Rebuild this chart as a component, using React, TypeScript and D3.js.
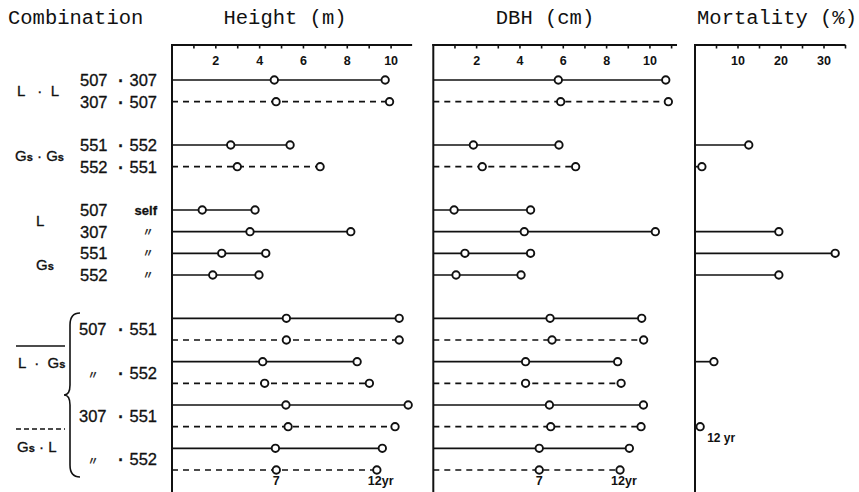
import { useEffect, useRef } from 'react';
import * as d3 from 'd3';

// vertical slot of each row (gaps separate the groups)
const rowSlots = [0, 1, 3, 4, 6, 7, 8, 9, 11, 12, 13, 14, 15, 16, 17, 18];
const rowDashed = [false, true, false, true, false, false, false, false, false, true, false, true, false, true, false, true];

// height (m) at 7 and 12 years
const height7 = [4.67, 4.75, 2.68, 2.98, 1.38, 3.56, 2.27, 1.86, 5.22, 5.22, 4.14, 4.23, 5.2, 5.3, 4.72, 4.76];
const height12 = [9.73, 9.93, 5.39, 6.76, 3.79, 8.16, 4.28, 3.97, 10.37, 10.37, 8.45, 9.01, 10.78, 10.18, 9.6, 9.35];

// DBH (cm) at 7 and 12 years
const dbh7 = [5.77, 5.88, 1.85, 2.26, 0.96, 4.2, 1.46, 1.05, 5.39, 5.48, 4.26, 4.26, 5.36, 5.42, 4.89, 4.89];
const dbh12 = [10.73, 10.85, 5.8, 6.57, 4.49, 10.25, 4.49, 4.05, 9.62, 9.71, 8.51, 8.67, 9.7, 9.59, 9.05, 8.62];

// mortality (%) at 12 years
const mortality: (number | null)[] = [null, null, 12.5, 1.6, null, 19.5, 32.6, 19.5, null, null, 4.4, null, null, 1.2, null, null];

const sizeTicks = [2, 4, 6, 8, 10];
const mortalityTicks = [10, 20, 30];

// combination labels
const comboLeft = ['507', '307', '551', '552', '507', '307', '551', '552'];
const comboRight = ['307', '507', '552', '551', 'self', '〃', '〃', '〃'];
const crossLeft = ['507', '〃', '307', '〃'];
const crossRight = ['551', '552', '551', '552'];

const App = () => {
  const chartRef = useRef<SVGSVGElement | null>(null);

  useEffect(() => {
    if (!chartRef.current) return;
    const svg = d3.select(chartRef.current);
    svg.selectAll('*').remove();

    const width = 859;
    const height = 492;
    const axisTop = 45;
    const ink = '#111';
    const mono = '"Liberation Mono", "Courier New", monospace';
    const sans = '"Liberation Sans", Arial, Helvetica, sans-serif';
    const ditto = '"Noto Sans CJK JP", "DejaVu Sans", sans-serif';

    svg.attr('width', width).attr('height', height);
    svg.append('rect').attr('width', width).attr('height', height).attr('fill', '#fff');

    const y = d3.scaleLinear().domain([0, 18]).range([80, 470]);

    const xHeight = d3.scaleLinear().domain([0, 11]).range([172, 413]);
    const xDbh = d3.scaleLinear().domain([0, 11]).range([433.3, 671.6]);
    const xMort = d3.scaleLinear().domain([0, 35]).range([695, 845.5]);

    // Column titles
    const titles: [string, number, string][] = [
      ['Combination', 8, 'start'],
      ['Height (m)', 285, 'middle'],
      ['DBH (cm)', 545, 'middle'],
      ['Mortality (%)', 777, 'middle'],
    ];
    titles.forEach(([t, x, anchor]) => {
      svg.append('text')
        .attr('x', x)
        .attr('y', 24)
        .attr('text-anchor', anchor)
        .style('font-family', mono)
        .style('font-size', '20.5px')
        .attr('fill', ink)
        .text(t);
    });

    // Panel frame: top axis with ticks + left axis
    const drawFrame = (
      x: d3.ScaleLinear<number, number>,
      maxV: number,
      step: number,
      labels: number[]
    ) => {
      const g = svg.append('g');
      g.append('line')
        .attr('x1', x(0) - 1).attr('x2', x(maxV))
        .attr('y1', axisTop).attr('y2', axisTop)
        .attr('stroke', ink).attr('stroke-width', 2);
      g.append('line')
        .attr('x1', x(0)).attr('x2', x(0))
        .attr('y1', axisTop - 1).attr('y2', height)
        .attr('stroke', ink).attr('stroke-width', 2);
      g.selectAll('.tick')
        .data(d3.range(step, maxV + 0.001, step))
        .enter()
        .append('line')
        .attr('x1', d => x(d)).attr('x2', d => x(d))
        .attr('y1', axisTop).attr('y2', axisTop + 3.5)
        .attr('stroke', ink).attr('stroke-width', 1.6);
      g.selectAll('.tl')
        .data(labels)
        .enter()
        .append('text')
        .attr('x', d => x(d))
        .attr('y', 64.5)
        .attr('text-anchor', 'middle')
        .style('font-family', sans)
        .style('font-weight', 'bold')
        .style('font-size', '12.5px')
        .attr('fill', ink)
        .text(d => d);
    };

    drawFrame(xHeight, 10.96, 1, sizeTicks);
    drawFrame(xDbh, 11.25, 1, sizeTicks);
    drawFrame(xMort, 35, 5, mortalityTicks);

    const dash = '6,5';

    // Dumbbell rows for height / DBH
    const drawRows = (x: d3.ScaleLinear<number, number>, v7: number[], v12: number[]) => {
      const g = svg.append('g');
      rowSlots.forEach((s, i) => {
        g.append('line')
          .attr('x1', x(0)).attr('x2', x(v12[i]))
          .attr('y1', y(s)).attr('y2', y(s))
          .attr('stroke', ink).attr('stroke-width', 1.7)
          .attr('stroke-dasharray', rowDashed[i] ? dash : null);
      });
      rowSlots.forEach((s, i) => {
        [v7[i], v12[i]].forEach(v => {
          g.append('circle')
            .attr('cx', x(v)).attr('cy', y(s)).attr('r', 3.7)
            .attr('fill', '#fff').attr('stroke', ink).attr('stroke-width', 1.9);
        });
      });
      const last = rowSlots.length - 1;
      g.append('text')
        .attr('x', x(v7[last]))
        .attr('y', 485)
        .attr('text-anchor', 'middle')
        .style('font-family', sans).style('font-weight', 'bold').style('font-size', '12.5px')
        .attr('fill', ink)
        .text('7');
      g.append('text')
        .attr('x', x(v12[last]) - 9)
        .attr('y', 485)
        .style('font-family', sans).style('font-weight', 'bold').style('font-size', '12.5px')
        .attr('fill', ink)
        .text('12yr');
    };

    drawRows(xHeight, height7, height12);
    drawRows(xDbh, dbh7, dbh12);

    // Mortality lollipops
    const gm = svg.append('g');
    rowSlots.forEach((s, i) => {
      const v = mortality[i];
      if (v === null) return;
      gm.append('line')
        .attr('x1', xMort(0)).attr('x2', xMort(v))
        .attr('y1', y(s)).attr('y2', y(s))
        .attr('stroke', ink).attr('stroke-width', 1.7);
      gm.append('circle')
        .attr('cx', xMort(v)).attr('cy', y(s)).attr('r', 3.7)
        .attr('fill', '#fff').attr('stroke', ink).attr('stroke-width', 1.9);
    });
    gm.append('text')
      .attr('x', xMort(1.2) + 7)
      .attr('y', y(16) + 15)
      .style('font-family', sans).style('font-weight', 'bold').style('font-size', '12px')
      .attr('fill', ink)
      .text('12 yr');

    // Row labels
    const lab = svg.append('g')
      .style('font-family', sans)
      .style('font-size', '16.5px')
      .attr('fill', ink)
      .attr('stroke', ink)
      .attr('stroke-width', 0.3);

    const pairLabel = (left: string, right: string, yy: number, leftX: number) => {
      const isDittoL = left === '〃';
      lab.append('text')
        .attr('x', isDittoL ? 93 : leftX)
        .attr('y', yy + 6)
        .attr('text-anchor', isDittoL ? 'middle' : 'start')
        .style('font-family', isDittoL ? ditto : sans)
        .style('font-size', isDittoL ? '11px' : null)
        .text(left);
      lab.append('text')
        .attr('x', 121).attr('y', yy + 6)
        .attr('text-anchor', 'middle')
        .style('font-weight', 'bold')
        .text('·');
      lab.append('text')
        .attr('x', 157).attr('y', yy + 6)
        .attr('text-anchor', 'end')
        .text(right);
    };

    comboLeft.forEach((l, i) => {
      const yy = y(rowSlots[i]);
      if (i < 4) {
        pairLabel(l, comboRight[i], yy, 80);
      } else {
        lab.append('text').attr('x', 80).attr('y', yy + 6).text(l);
        const r = comboRight[i];
        if (r === 'self') {
          lab.append('text').attr('x', 157).attr('y', yy + 5)
            .attr('text-anchor', 'end')
            .style('font-size', '13px').style('font-weight', 'bold')
            .text(r);
        } else {
          lab.append('text').attr('x', 148).attr('y', yy + 4)
            .attr('text-anchor', 'middle')
            .style('font-family', ditto).style('font-size', '11px')
            .text(r);
        }
      }
    });

    crossLeft.forEach((l, i) => {
      const s = rowSlots[8 + i * 2];
      const yy = (y(s) + y(s + 1)) / 2;
      pairLabel(l, crossRight[i], yy, 79);
    });

    // group labels
    const groupLabel = (x: number, yy: number, parts: string[]) => {
      const t = lab.append('text')
        .attr('x', x).attr('y', yy + 5.5)
        .style('font-size', '15px')
        .style('white-space', 'pre');
      parts.forEach(p => {
        if (p === 'Gs') {
          t.append('tspan').text('G');
          t.append('tspan').style('font-size', '11px').style('font-weight', 'bold').text('s');
        } else {
          t.append('tspan').text(p);
        }
      });
    };
    groupLabel(17, (y(0) + y(1)) / 2, ['L', '   ·  ', 'L']);
    groupLabel(15, (y(3) + y(4)) / 2, ['Gs', ' · ', 'Gs']);
    groupLabel(36, (y(6) + y(7)) / 2, ['L']);
    groupLabel(36, (y(8) + y(9)) / 2, ['Gs']);
    groupLabel(18, 362, ['L', '  ·  ', 'Gs']);
    groupLabel(17, 446, ['Gs', ' · ', 'L']);

    // over-lines: solid = L·Gs, dashed = Gs·L
    lab.append('line')
      .attr('x1', 16).attr('x2', 65).attr('y1', 346).attr('y2', 346)
      .attr('stroke-width', 1.6);
    lab.append('line')
      .attr('x1', 16).attr('x2', 65).attr('y1', 429).attr('y2', 429)
      .attr('stroke-width', 1.6)
      .attr('stroke-dasharray', '5,3');

    // brace
    const yb0 = 313;
    const yb1 = 477;
    const ym = 395;
    const path = d3.path();
    path.moveTo(80, yb0);
    path.quadraticCurveTo(70, yb0, 70, yb0 + 12);
    path.lineTo(70, ym - 10);
    path.quadraticCurveTo(70, ym, 64, ym);
    path.quadraticCurveTo(70, ym, 70, ym + 10);
    path.lineTo(70, yb1 - 12);
    path.quadraticCurveTo(70, yb1, 80, yb1);
    lab.append('path')
      .attr('d', path.toString())
      .attr('fill', 'none')
      .attr('stroke-width', 1.6);
  }, []);

  return (
    <svg
      ref={chartRef}
      style={{ position: 'absolute', left: 0, top: 0, display: 'block' }}
    ></svg>
  );
};

export default App;
